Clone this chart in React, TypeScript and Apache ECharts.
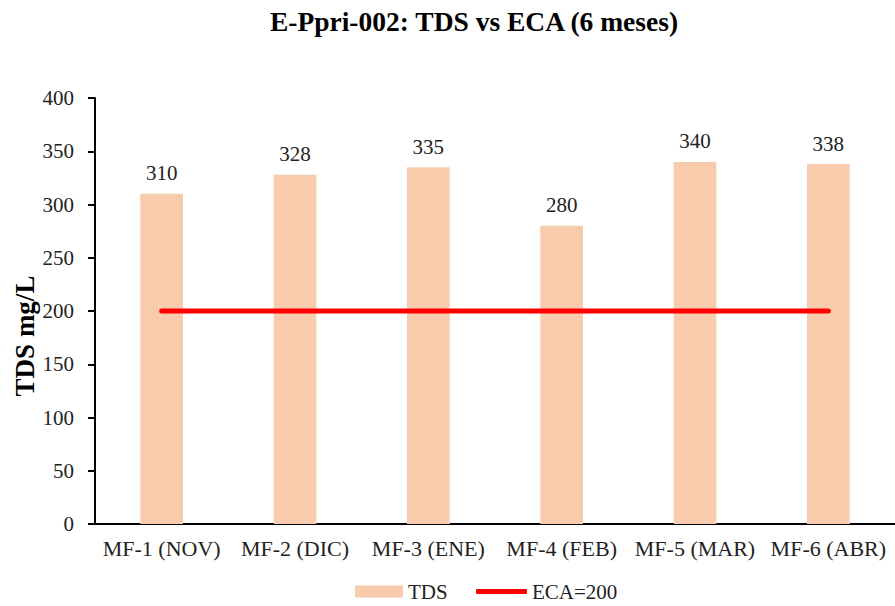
import React, { useEffect, useRef } from "react";
import * as echarts from "echarts";

const categories = ["MF-1 (NOV)", "MF-2 (DIC)", "MF-3 (ENE)", "MF-4 (FEB)", "MF-5 (MAR)", "MF-6 (ABR)"];
const tdsValues = [310, 328, 335, 280, 340, 338];
const ecaValues = [200, 200, 200, 200, 200, 200];

const FONT = "Liberation Serif";

export default function App() {
  const ref = useRef<HTMLDivElement>(null);
  useEffect(() => {
    const chart = echarts.init(ref.current!, null, { renderer: "svg" });
    chart.setOption({
      animation: false,
      textStyle: { fontFamily: FONT },
      title: {
        text: "E-Ppri-002: TDS vs ECA (6 meses)",
        left: 469,
        textAlign: "center",
        top: 2,
        textStyle: { fontFamily: FONT, fontSize: 27.5, fontWeight: "bold", color: "#000" },
      },
      graphic: [
        {
          type: "text",
          x: 25,
          y: 336,
          rotation: Math.PI / 2,
          style: {
            text: "TDS mg/L",
            fontFamily: FONT,
            fontSize: 27,
            fontWeight: "bold",
            fill: "#000",
            align: "center",
            verticalAlign: "middle",
          },
        },
      ],
      grid: { left: 95, top: 98, width: 808, height: 426, containLabel: false },
      legend: [
        {
          left: 350,
          top: 576,
          itemWidth: 48,
          itemHeight: 12,
          icon: "rect",
          textStyle: { fontFamily: FONT, fontSize: 21, color: "#222" },
          data: ["TDS"],
        },
        {
          left: 471,
          top: 576,
          itemWidth: 51,
          itemHeight: 5,
          icon: "roundRect",
          textStyle: { fontFamily: FONT, fontSize: 21, color: "#222" },
          data: ["ECA=200"],
        },
      ],
      xAxis: {
        type: "category",
        data: categories,
        axisLine: { lineStyle: { color: "#000", width: 2 } },
        axisTick: { show: false },
        axisLabel: { color: "#222", fontSize: 22, fontFamily: FONT, margin: 13, interval: 0 },
      },
      yAxis: {
        type: "value",
        min: 0,
        max: 400,
        interval: 50,
        axisLine: { show: true, lineStyle: { color: "#000", width: 2 } },
        axisTick: { show: true, length: 7, lineStyle: { color: "#000", width: 2 } },
        axisLabel: { color: "#222", fontSize: 21, fontFamily: FONT, margin: 21 },
        splitLine: { show: false },
      },
      series: [
        {
          name: "TDS",
          type: "bar",
          data: tdsValues,
          barWidth: "32%",
          itemStyle: { color: "#F8CBAD" },
          label: {
            show: true,
            position: "top",
            distance: 10,
            fontFamily: FONT,
            fontSize: 21,
            color: "#222",
          },
        },
        {
          name: "ECA=200",
          type: "line",
          data: ecaValues,
          symbol: "none",
          lineStyle: { color: "#FF0000", width: 5, cap: "round" },
          itemStyle: { color: "#FF0000" },
        },
      ],
    });
    return () => chart.dispose();
  }, []);
  return <div ref={ref} style={{ width: 895, height: 606, position: "absolute", left: 0, top: 0 }} />;
}
